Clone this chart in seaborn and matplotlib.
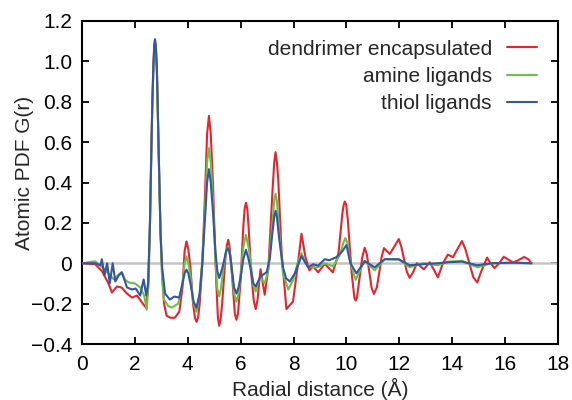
import numpy as np
import pandas as pd
import matplotlib
matplotlib.use('Agg')
import matplotlib.pyplot as plt
import seaborn as sns

# pontos: (r em Å, G(r))
red_pts = [
    (0, 0.0), (0.5, -0.005), (0.76, -0.04), (1.0, -0.10), (1.13, -0.145), (1.32, -0.115), (1.49, -0.12),
    (1.7, -0.15), (1.89, -0.17), (2.08, -0.16), (2.27, -0.195), (2.42, -0.22), (2.5, -0.12), (2.57, 0.2),
    (2.62, 0.55), (2.66, 0.8), (2.7, 0.98), (2.73, 1.07), (2.76, 1.10), (2.79, 1.07), (2.83, 0.97),
    (2.86, 0.8), (2.9, 0.55), (2.97, 0.15), (3.03, -0.05), (3.1, -0.2), (3.2, -0.26), (3.35, -0.27),
    (3.51, -0.27), (3.68, -0.24), (3.8, -0.12), (3.88, 0.06), (3.95, 0.108), (4.02, 0.07), (4.1, -0.02),
    (4.2, -0.2), (4.27, -0.27), (4.33, -0.29), (4.39, -0.27), (4.45, -0.2), (4.55, 0.0), (4.6, 0.17),
    (4.66, 0.37), (4.73, 0.64), (4.8, 0.73), (4.87, 0.64), (4.96, 0.37), (5.0, 0.2), (5.08, -0.1),
    (5.14, -0.27), (5.19, -0.31), (5.24, -0.28), (5.3, -0.2), (5.42, 0.02), (5.48, 0.09), (5.53, 0.116),
    (5.58, 0.08), (5.65, -0.02), (5.78, -0.25), (5.84, -0.28), (5.9, -0.25), (6.0, -0.08), (6.1, 0.18),
    (6.15, 0.27), (6.2, 0.30), (6.25, 0.27), (6.3, 0.18), (6.4, -0.05), (6.5, -0.19), (6.57, -0.227),
    (6.64, -0.18), (6.75, -0.03), (6.91, -0.156), (7.05, -0.02), (7.12, 0.15), (7.2, 0.35), (7.27, 0.5),
    (7.32, 0.55), (7.37, 0.5), (7.42, 0.42), (7.55, 0.05), (7.73, -0.227), (7.98, -0.19), (8.15, -0.02),
    (8.3, 0.146), (8.45, 0.03), (8.6, -0.035), (8.74, -0.015), (8.93, -0.045), (9.18, -0.003),
    (9.49, -0.045), (9.7, 0.05), (9.85, 0.25), (9.9, 0.29), (9.94, 0.306), (9.99, 0.29), (10.05, 0.22),
    (10.2, -0.05), (10.3, -0.17), (10.35, -0.185), (10.4, -0.17), (10.52, -0.05), (10.6, 0.03),
    (10.69, 0.077), (10.78, 0.04), (10.85, -0.03), (10.95, -0.12), (11.04, -0.152), (11.15, -0.12),
    (11.25, -0.04), (11.33, 0.03), (11.42, 0.075), (11.53, 0.06), (11.64, 0.046), (11.8, 0.08),
    (11.98, 0.12), (12.08, 0.08), (12.18, 0.02), (12.28, -0.04), (12.39, -0.072), (12.5, -0.05),
    (12.67, 0.0), (12.93, -0.03), (13.15, 0.005), (13.3, -0.03), (13.46, -0.07), (13.65, 0.0),
    (13.84, 0.043), (14.03, 0.03), (14.2, 0.07), (14.37, 0.11), (14.5, 0.07), (14.65, 0.0),
    (14.8, -0.07), (14.95, -0.095), (15.1, -0.04), (15.32, 0.028), (15.45, 0.0), (15.6, -0.024),
    (15.78, 0.0), (15.95, 0.032), (16.1, 0.02), (16.3, 0.004), (16.5, 0.015), (16.72, 0.031),
    (16.88, 0.02), (17.0, 0.0),
]

green_pts = [
    (0, 0.0), (0.5, 0.01), (0.76, -0.02), (1.0, -0.05), (1.2, -0.08), (1.35, -0.06), (1.49, -0.045),
    (1.62, -0.08), (1.76, -0.095), (2.0, -0.1), (2.2, -0.12), (2.35, -0.16), (2.45, -0.23), (2.52, -0.08),
    (2.57, 0.2), (2.62, 0.54), (2.66, 0.79), (2.7, 0.96), (2.73, 1.05), (2.76, 1.08), (2.79, 1.05),
    (2.83, 0.95), (2.86, 0.78), (2.9, 0.54), (2.97, 0.13), (3.03, -0.08), (3.1, -0.18), (3.25, -0.21),
    (3.39, -0.22), (3.64, -0.2), (3.8, -0.1), (3.88, 0.0), (3.95, 0.034), (4.02, 0.0), (4.1, -0.06),
    (4.2, -0.19), (4.33, -0.24), (4.45, -0.15), (4.55, 0.02), (4.6, 0.14), (4.66, 0.29), (4.73, 0.5),
    (4.8, 0.57), (4.87, 0.5), (4.96, 0.29), (5.05, 0.0), (5.12, -0.13), (5.19, -0.164), (5.26, -0.12),
    (5.35, -0.02), (5.45, 0.06), (5.53, 0.083), (5.6, 0.04), (5.65, -0.02), (5.75, -0.15), (5.84, -0.19),
    (5.92, -0.15), (6.0, -0.05), (6.1, 0.08), (6.2, 0.141), (6.3, 0.08), (6.38, 0.0), (6.48, -0.11),
    (6.57, -0.14), (6.65, -0.1), (6.75, -0.07), (6.91, -0.1), (7.05, -0.03), (7.12, 0.08), (7.2, 0.2),
    (7.27, 0.31), (7.32, 0.344), (7.37, 0.31), (7.45, 0.17), (7.6, -0.05), (7.8, -0.13), (8.0, -0.08),
    (8.15, 0.0), (8.3, 0.05), (8.45, 0.0), (8.6, -0.02), (8.93, -0.02), (9.18, 0.0), (9.5, -0.015),
    (9.75, 0.04), (9.88, 0.1), (9.96, 0.125), (10.04, 0.1), (10.15, 0.0), (10.35, -0.082), (10.5, -0.04),
    (10.69, 0.012), (11.07, -0.035), (11.45, 0.02), (11.98, 0.018), (12.39, -0.02), (12.9, 0.0),
    (13.46, -0.01), (13.84, 0.008), (14.37, 0.012), (14.95, -0.02), (15.5, 0.0), (16.3, 0.003), (17.0, 0.0),
]

blue_pts = [
    (0, 0.0), (0.5, 0.0), (0.7, -0.01), (0.75, 0.02), (0.85, -0.06), (0.95, 0.0), (1.05, -0.1),
    (1.16, 0.0), (1.26, -0.09), (1.39, -0.06), (1.51, -0.045), (1.7, -0.12), (1.89, -0.13),
    (2.03, -0.125), (2.2, -0.16), (2.33, -0.08), (2.43, -0.16), (2.5, -0.1), (2.57, 0.2), (2.62, 0.55),
    (2.66, 0.8), (2.7, 0.98), (2.73, 1.08), (2.76, 1.11), (2.79, 1.08), (2.83, 0.97), (2.86, 0.8),
    (2.9, 0.55), (2.97, 0.15), (3.03, -0.02), (3.14, -0.15), (3.32, -0.18), (3.49, -0.165), (3.68, -0.17),
    (3.8, -0.1), (3.88, -0.05), (3.95, -0.032), (4.02, -0.05), (4.1, -0.1), (4.22, -0.19), (4.33, -0.22),
    (4.45, -0.15), (4.55, 0.0), (4.6, 0.11), (4.66, 0.24), (4.73, 0.4), (4.8, 0.466), (4.87, 0.4),
    (4.96, 0.24), (5.05, 0.05), (5.12, -0.04), (5.19, -0.073), (5.27, -0.04), (5.35, 0.0), (5.45, 0.06),
    (5.53, 0.075), (5.6, 0.04), (5.65, -0.01), (5.75, -0.12), (5.84, -0.15), (5.92, -0.12), (6.0, -0.07),
    (6.1, 0.02), (6.2, 0.067), (6.3, 0.02), (6.38, -0.03), (6.48, -0.1), (6.57, -0.115), (6.75, -0.065),
    (6.98, -0.045), (7.1, 0.02), (7.2, 0.15), (7.27, 0.23), (7.32, 0.26), (7.37, 0.23), (7.45, 0.13),
    (7.6, -0.02), (7.72, -0.075), (7.86, -0.09), (8.05, -0.05), (8.3, 0.035), (8.55, -0.02),
    (8.74, -0.005), (8.93, -0.012), (9.18, 0.02), (9.35, 0.015), (9.62, 0.03), (9.85, 0.06), (10.0, 0.09),
    (10.15, 0.0), (10.38, -0.05), (10.69, 0.01), (11.07, -0.02), (11.45, 0.02), (11.98, 0.02),
    (12.39, -0.01), (12.9, -0.005), (13.46, 0.0), (13.84, 0.005), (14.37, 0.008), (14.95, -0.01),
    (15.5, 0.0), (16.3, 0.003), (17.0, 0.0),
]

series = ['dendrimer encapsulated', 'amine ligands', 'thiol ligands']
colors = ['#e8232b', '#6dbf4b', '#3456a6']

x_ticks = [0, 2, 4, 6, 8, 10, 12, 14, 16, 18]
y_ticks = [-0.4, -0.2, 0, 0.2, 0.4, 0.6, 0.8, 1.0, 1.2]
y_labels = ['\u22120.4', '\u22120.2', '0', '0.2', '0.4', '0.6', '0.8', '1.0', '1.2']

frames = []
for nome, pts in zip(series, [red_pts, green_pts, blue_pts]):
    d = pd.DataFrame(pts, columns=['r', 'G'])
    d['amostra'] = nome
    frames.append(d)
df = pd.concat(frames, ignore_index=True)

sns.set_style('ticks')
plt.rcParams['font.family'] = ['Liberation Sans', 'DejaVu Sans']

fig = plt.figure(figsize=(5.72, 4.0), dpi=100)
ax = fig.add_axes([0.1434, 0.14, 0.832, 0.8075])

ax.axhline(0, color='#c4c4c4', lw=1.8, zorder=1)
sns.lineplot(data=df, x='r', y='G', hue='amostra', hue_order=series, palette=colors,
             sort=False, estimator=None, lw=1.5, ax=ax, zorder=3)

ax.set_xlim(0, 18)
ax.set_ylim(-0.4, 1.2)
ax.set_xticks(x_ticks)
ax.set_yticks(y_ticks)
ax.set_yticklabels(y_labels)
ax.tick_params(direction='in', length=5, width=1.3, top=True, right=True,
               labelsize=15, colors='black')
ax.tick_params(axis='x', pad=8)
ax.tick_params(axis='y', pad=7)
for s in ax.spines.values():
    s.set_linewidth(1.5)
    s.set_color('black')

ax.set_xlabel('Radial distance (\u00c5)', fontsize=15, labelpad=3)
ax.set_ylabel('Atomic PDF G(r)', fontsize=15)
ax.yaxis.set_label_coords(-0.10, 0.53)

leg = ax.legend(loc='upper right', frameon=False, markerfirst=False, fontsize=15,
                handlelength=1.44, handletextpad=0.72, labelspacing=0.4,
                bbox_to_anchor=(0.9733, 0.968), borderaxespad=0)
leg._legend_box.align = 'right'

fig.savefig('out.png', dpi=100)
